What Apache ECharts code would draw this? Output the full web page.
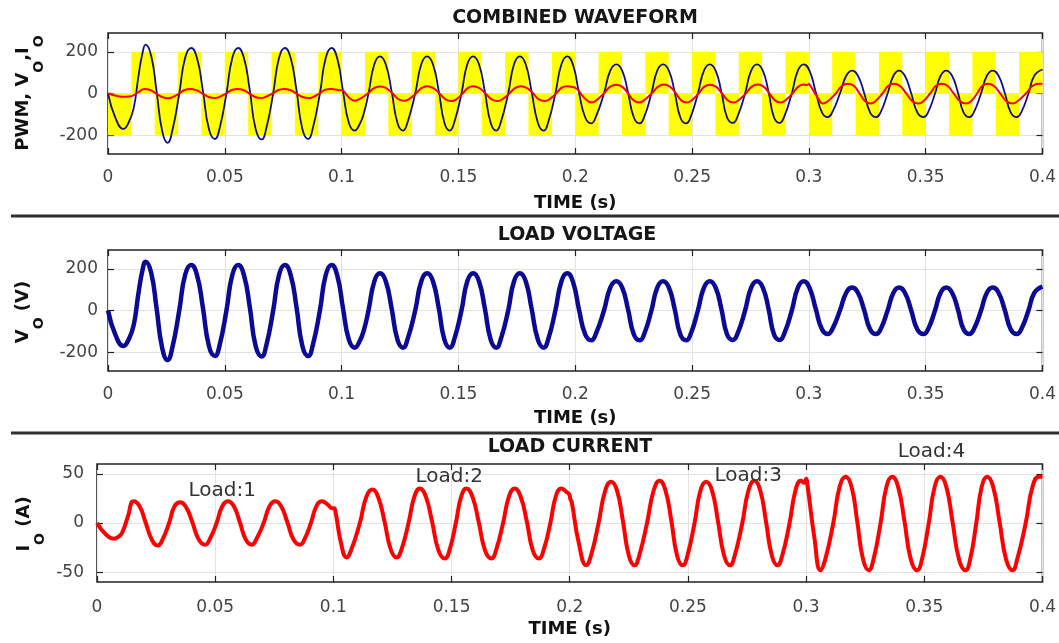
<!DOCTYPE html>
<html>
<head>
<meta charset="utf-8">
<script src="https://cdn.jsdelivr.net/npm/echarts@6/dist/echarts.min.js"></script>
<style>
html,body{margin:0;padding:0;background:#fff;}
#c{width:1059px;height:643px;}
</style>
</head>
<body>
<div id="c"></div>
<script>
// ---------------- data ----------------
const timeRange = [0, 0.4];
const timeTickStep = 0.05;
const voltTicks = [-200, 0, 200];
const voltRange = [-290, 290];
const currTicks = [-50, 0, 50];
const currRange = [-60, 60];

const panelTitles = ['COMBINED WAVEFORM', 'LOAD VOLTAGE', 'LOAD CURRENT'];

// PWM square wave: switching instants (s) and level held from each instant (V)
const pwmSwitchTimes = [0,0.01,0.02,0.03,0.04,0.05,0.06,0.07,0.08,0.09,0.10,0.11,0.12,0.13,0.14,0.15,0.16,0.17,0.18,0.19,0.20,
  0.21,0.22,0.23,0.24,0.25,0.26,0.27,0.28,0.29,0.30,0.31,0.32,0.33,0.34,0.35,0.36,0.37,0.38,0.39,0.40];
const pwmLevels = [-200,200,-200,200,-200,200,-200,200,-200,200,-200,200,-200,200,-200,200,-200,200,-200,200,
  -200,200,-200,200,-200,200,-200,200,-200,200,-200,200,-200,200,-200,200,-200,200,-200,200,200];

// Load voltage V_O (V): [time s, value]
const loadVoltage = [
  [0,0],[0.0033,-120],[0.0066,-170],[0.0088,-140],[0.0110,-70],[0.0130,80],[0.0148,195],[0.0161,234],
  [0.0185,180],[0.0208,10],[0.0232,-180],[0.0255,-237],[0.0275,-180],[0.0305,0],[0.0330,170],[0.0356,218],
  [0.0381,170],[0.0406,15],[0.0432,-170],[0.0458,-218],[0.0478,-165],[0.0507,0],[0.0532,170],[0.0557,218],
  [0.0582,170],[0.0607,15],[0.0632,-170],[0.0658,-220],[0.0678,-165],[0.0707,0],[0.0732,170],[0.0757,218],
  [0.0782,170],[0.0807,15],[0.0832,-170],[0.0857,-218],[0.0877,-165],[0.0907,0],[0.0932,170],[0.0957,218],
  [0.0982,165],[0.1006,10],[0.1031,-140],[0.1056,-178],[0.1076,-150],[0.1095,-95],[0.1115,0],[0.1140,140],[0.1164,178],
  [0.1189,140],[0.1214,10],[0.1239,-140],[0.1263,-178],[0.1283,-135],[0.1315,0],[0.1341,140],[0.1366,178],
  [0.1391,140],[0.1416,10],[0.1440,-140],[0.1463,-178],[0.1483,-135],[0.1513,0],[0.1538,140],[0.1563,178],
  [0.1588,140],[0.1613,10],[0.1638,-140],[0.1662,-178],[0.1682,-135],[0.1713,0],[0.1738,140],[0.1763,178],
  [0.1788,140],[0.1813,10],[0.1840,-140],[0.1865,-178],[0.1885,-135],[0.1915,0],[0.1941,140],[0.1966,178],
  [0.1991,135],[0.2016,5],[0.2043,-115],[0.2069,-143],[0.2089,-110],[0.2123,0],[0.2150,110],[0.2176,140],
  [0.2201,110],[0.2226,5],[0.2251,-115],[0.2276,-143],[0.2296,-110],[0.2326,0],[0.2351,110],[0.2376,140],
  [0.2401,110],[0.2426,5],[0.2450,-115],[0.2475,-143],[0.2495,-110],[0.2525,0],[0.2551,110],[0.2576,140],
  [0.2601,110],[0.2626,5],[0.2650,-115],[0.2675,-141],[0.2695,-110],[0.2727,0],[0.2753,110],[0.2778,140],
  [0.2803,110],[0.2828,5],[0.2851,-115],[0.2875,-141],[0.2895,-110],[0.2927,0],[0.2953,110],[0.2978,140],
  [0.3003,108],[0.3030,5],[0.3056,-90],[0.3081,-113],[0.3101,-88],[0.3133,0],[0.3160,85],[0.3185,110],
  [0.3210,85],[0.3236,5],[0.3262,-90],[0.3288,-113],[0.3308,-88],[0.3337,0],[0.3362,85],[0.3386,110],
  [0.3411,85],[0.3437,5],[0.3464,-90],[0.3491,-113],[0.3511,-88],[0.3540,0],[0.3564,85],[0.3588,110],
  [0.3613,85],[0.3638,5],[0.3662,-90],[0.3687,-113],[0.3707,-88],[0.3737,0],[0.3762,85],[0.3787,110],
  [0.3812,85],[0.3838,5],[0.3864,-90],[0.3890,-113],[0.3910,-88],[0.3940,0],[0.3965,85],[0.4000,115]
];

// Load current I_O (A): [time s, value]
const loadCurrent = [
  [0,0],[0.0035,-11],[0.0071,-16],[0.0090,-14],[0.0106,-10],[0.0130,6],[0.0155,22],
  [0.0180,17],[0.0205,1],[0.0232,-17],[0.0257,-23],[0.0277,-17],[0.0305,0],[0.0328,17],[0.0352,21],
  [0.0377,16],[0.0403,1],[0.0431,-17],[0.0458,-22],[0.0478,-16],[0.0506,0],[0.0530,17],[0.0554,22],
  [0.0579,17],[0.0604,1],[0.0630,-17],[0.0655,-22],[0.0675,-16],[0.0705,0],[0.0730,17],[0.0754,22],
  [0.0779,17],[0.0805,1],[0.0832,-17],[0.0859,-22],[0.0879,-16],[0.0905,0],[0.0928,17],[0.0951,22],
  [0.0975,19],[0.0996,15],[0.1003,15],[0.1010,10],[0.1032,-20],[0.1056,-35],[0.1076,-27],[0.1112,0],[0.1140,27],[0.1165,34],
  [0.1190,26],[0.1216,2],[0.1243,-27],[0.1268,-35],[0.1288,-27],[0.1318,0],[0.1343,27],[0.1366,35],
  [0.1391,27],[0.1417,2],[0.1445,-28],[0.1472,-36],[0.1492,-27],[0.1518,0],[0.1541,27],[0.1563,35],
  [0.1588,27],[0.1614,2],[0.1642,-28],[0.1669,-36],[0.1689,-27],[0.1718,0],[0.1743,27],[0.1767,35],
  [0.1792,27],[0.1818,2],[0.1844,-28],[0.1870,-36],[0.1890,-27],[0.1918,0],[0.1941,27],[0.1964,35],
  [0.1984,32],[0.1998,29],[0.2003,24],[0.2008,22],[0.2038,-20],[0.2070,-43],[0.2090,-33],[0.2122,0],[0.2150,33],[0.2175,42],
  [0.2200,33],[0.2225,2],[0.2250,-33],[0.2274,-43],[0.2294,-33],[0.2327,0],[0.2355,33],[0.2380,43],
  [0.2405,33],[0.2430,2],[0.2454,-33],[0.2478,-43],[0.2498,-33],[0.2528,0],[0.2553,33],[0.2577,42],
  [0.2602,33],[0.2627,2],[0.2653,-33],[0.2678,-43],[0.2698,-33],[0.2730,0],[0.2756,33],[0.2781,43],
  [0.2806,33],[0.2830,2],[0.2855,-33],[0.2879,-43],[0.2899,-33],[0.2930,0],[0.2955,33],[0.2978,43],
  [0.2992,41],[0.3000,45],[0.3006,38],[0.3035,-15],[0.3061,-48],[0.3081,-37],[0.3115,0],[0.3142,37],[0.3167,47],
  [0.3192,37],[0.3216,2],[0.3241,-37],[0.3265,-48],[0.3285,-37],[0.3315,0],[0.3340,37],[0.3364,47],
  [0.3389,37],[0.3416,2],[0.3443,-37],[0.3470,-48],[0.3490,-37],[0.3519,0],[0.3544,37],[0.3568,47],
  [0.3593,37],[0.3619,2],[0.3647,-37],[0.3674,-48],[0.3694,-37],[0.3720,0],[0.3743,37],[0.3766,47],
  [0.3791,37],[0.3818,2],[0.3846,-37],[0.3873,-48],[0.3893,-37],[0.3929,0],[0.3958,37],[0.3985,47],[0.4000,47]
];

// Load step annotations on the current panel
const loadLabelText = ['Load:1', 'Load:2', 'Load:3', 'Load:4'];
const loadLabelTime = [0.053, 0.149, 0.2755, 0.353];
const loadLabelCurr = [33, 46.5, 48.5, 72];

// ---------------- chart ----------------
const FONT = '"DejaVu Sans", "Liberation Sans", Arial, sans-serif';
const AXIS_COLOR = '#222';
const LABEL_COLOR = '#444';
const GRID_COLOR = '#e2e2e2';

const grids = [
  {left: 108, right: 16, top: 33, height: 121},
  {left: 108, right: 16, top: 250, height: 121},
  {left: 97, right: 15, top: 464, height: 118}
].map(g => Object.assign(g, {show: true, borderColor: AXIS_COLOR, borderWidth: 1.5, backgroundColor: 'transparent'}));

function makeXAxes(gridIndex, labelMargin, nameGap) {
  return [
    {
      gridIndex, type: 'value', position: 'bottom',
      min: timeRange[0], max: timeRange[1], interval: timeTickStep,
      axisLine: {show: false, onZero: false},
      axisTick: {inside: true, length: 6, lineStyle: {color: AXIS_COLOR, width: 1.2}},
      axisLabel: {margin: labelMargin, fontSize: 17, color: LABEL_COLOR, fontFamily: FONT},
      splitLine: {show: true, lineStyle: {color: GRID_COLOR, width: 1}},
      name: 'TIME (s)', nameLocation: 'middle', nameGap,
      nameTextStyle: {fontSize: 18, fontWeight: 'bold', color: '#111', fontFamily: FONT}
    },
    {
      gridIndex, type: 'value', position: 'top',
      min: timeRange[0], max: timeRange[1], interval: timeTickStep,
      axisLine: {show: false, onZero: false},
      axisTick: {inside: true, length: 6, lineStyle: {color: AXIS_COLOR, width: 1.2}},
      axisLabel: {show: false},
      splitLine: {show: false}
    }
  ];
}

function makeYAxes(gridIndex, range, ticks, labelMargin) {
  return [
    {
      gridIndex, type: 'value', position: 'left',
      min: range[0], max: range[1],
      axisLine: {show: false, onZero: false},
      axisTick: {inside: true, length: 6, customValues: ticks, lineStyle: {color: AXIS_COLOR, width: 1.2}},
      axisLabel: {customValues: ticks, margin: labelMargin, fontSize: 17, color: LABEL_COLOR, fontFamily: FONT},
      splitLine: {show: true, lineStyle: {color: GRID_COLOR, width: 1}}
    },
    {
      gridIndex, type: 'value', position: 'right',
      min: range[0], max: range[1],
      axisLine: {show: false, onZero: false},
      axisTick: {inside: true, length: 6, customValues: ticks, lineStyle: {color: AXIS_COLOR, width: 1.2}},
      axisLabel: {show: false},
      splitLine: {show: false}
    }
  ];
}

const pwmData = pwmSwitchTimes.map((t, i) => [t, pwmLevels[i]]);

const option = {
  animation: false,
  backgroundColor: '#fff',
  grid: grids,
  xAxis: [].concat(makeXAxes(0, 15, 40), makeXAxes(1, 15, 38), makeXAxes(2, 17, 38)),
  yAxis: [].concat(makeYAxes(0, voltRange, voltTicks, 10), makeYAxes(1, voltRange, voltTicks, 10), makeYAxes(2, currRange, currTicks, 13)),
  series: [
    {
      name: 'PWM', type: 'line', xAxisIndex: 0, yAxisIndex: 0, data: pwmData,
      step: 'end', symbol: 'none', z: 1,
      lineStyle: {width: 0, opacity: 0},
      areaStyle: {color: '#ffff00', opacity: 1}
    },
    {
      name: 'V_O combined', type: 'line', xAxisIndex: 0, yAxisIndex: 0, data: loadVoltage,
      smooth: 0.5, symbol: 'none', z: 3,
      lineStyle: {color: '#10108a', width: 1.8}
    },
    {
      name: 'I_O combined', type: 'line', xAxisIndex: 0, yAxisIndex: 0, data: loadCurrent,
      smooth: 0.5, symbol: 'none', z: 4,
      lineStyle: {color: '#ff0000', width: 2}
    },
    {
      name: 'V_O', type: 'line', xAxisIndex: 2, yAxisIndex: 2, data: loadVoltage,
      smooth: 0.5, symbol: 'none', z: 3,
      lineStyle: {color: '#0a0a96', width: 4.5}
    },
    {
      name: 'I_O', type: 'line', xAxisIndex: 4, yAxisIndex: 4, data: loadCurrent,
      smooth: 0.5, symbol: 'none', z: 3,
      lineStyle: {color: '#ff0000', width: 4}
    }
  ]
};

const chart = echarts.init(document.getElementById('c'));
chart.setOption(option);

// ---------- text decorations ----------
function yName(x, y, main, sub, tail) {
  const mainTok = {fontSize: 18, fontWeight: 'bold', fontFamily: FONT, fill: '#111', lineHeight: 20, verticalAlign: 'top'};
  const subTok = {fontSize: 14, fontWeight: 'bold', fontFamily: FONT, fill: '#111', lineHeight: 14, padding: [18, 0, 0, 0], verticalAlign: 'top'};
  let txt = '';
  main.forEach((m, i) => {
    txt += '{m|' + m + '}';
    if (sub[i]) txt += '{s|' + sub[i] + '}';
  });
  if (tail) txt += '{m|' + tail + '}';
  return {
    type: 'text', x, y, rotation: Math.PI / 2, z: 100,
    style: {text: txt, align: 'center', verticalAlign: 'middle', rich: {m: mainTok, s: subTok}}
  };
}

function titleText(x, y, text) {
  return {
    type: 'text', x, y, z: 100,
    style: {text, fontSize: 19, fontWeight: 'bold', fontFamily: FONT, fill: '#161616', align: 'center', verticalAlign: 'middle'}
  };
}

const gfx = [
  {type: 'line', z: 100, shape: {x1: 11, y1: 216, x2: 1059, y2: 216}, style: {stroke: '#2e2e2e', lineWidth: 3}},
  {type: 'line', z: 100, shape: {x1: 11, y1: 433, x2: 1059, y2: 433}, style: {stroke: '#2e2e2e', lineWidth: 3}},
  titleText(575, 18, panelTitles[0]),
  titleText(577, 235, panelTitles[1]),
  titleText(570, 447, panelTitles[2]),
  yName(24, 93, ['PWM, V', ',I'], ['O', 'O'], ''),
  yName(24, 312, ['V'], ['O'], ' (V)'),
  yName(25, 524, ['I'], ['O'], ' (A)')
];

loadLabelText.forEach((t, i) => {
  const p = chart.convertToPixel({seriesIndex: 4}, [loadLabelTime[i], loadLabelCurr[i]]);
  gfx.push({
    type: 'text', x: p[0], y: p[1], z: 100,
    style: {text: t, fontSize: 20, fontFamily: FONT, fill: '#333', align: 'center', verticalAlign: 'middle'}
  });
});

chart.setOption({graphic: gfx});
</script>
</body>
</html>
